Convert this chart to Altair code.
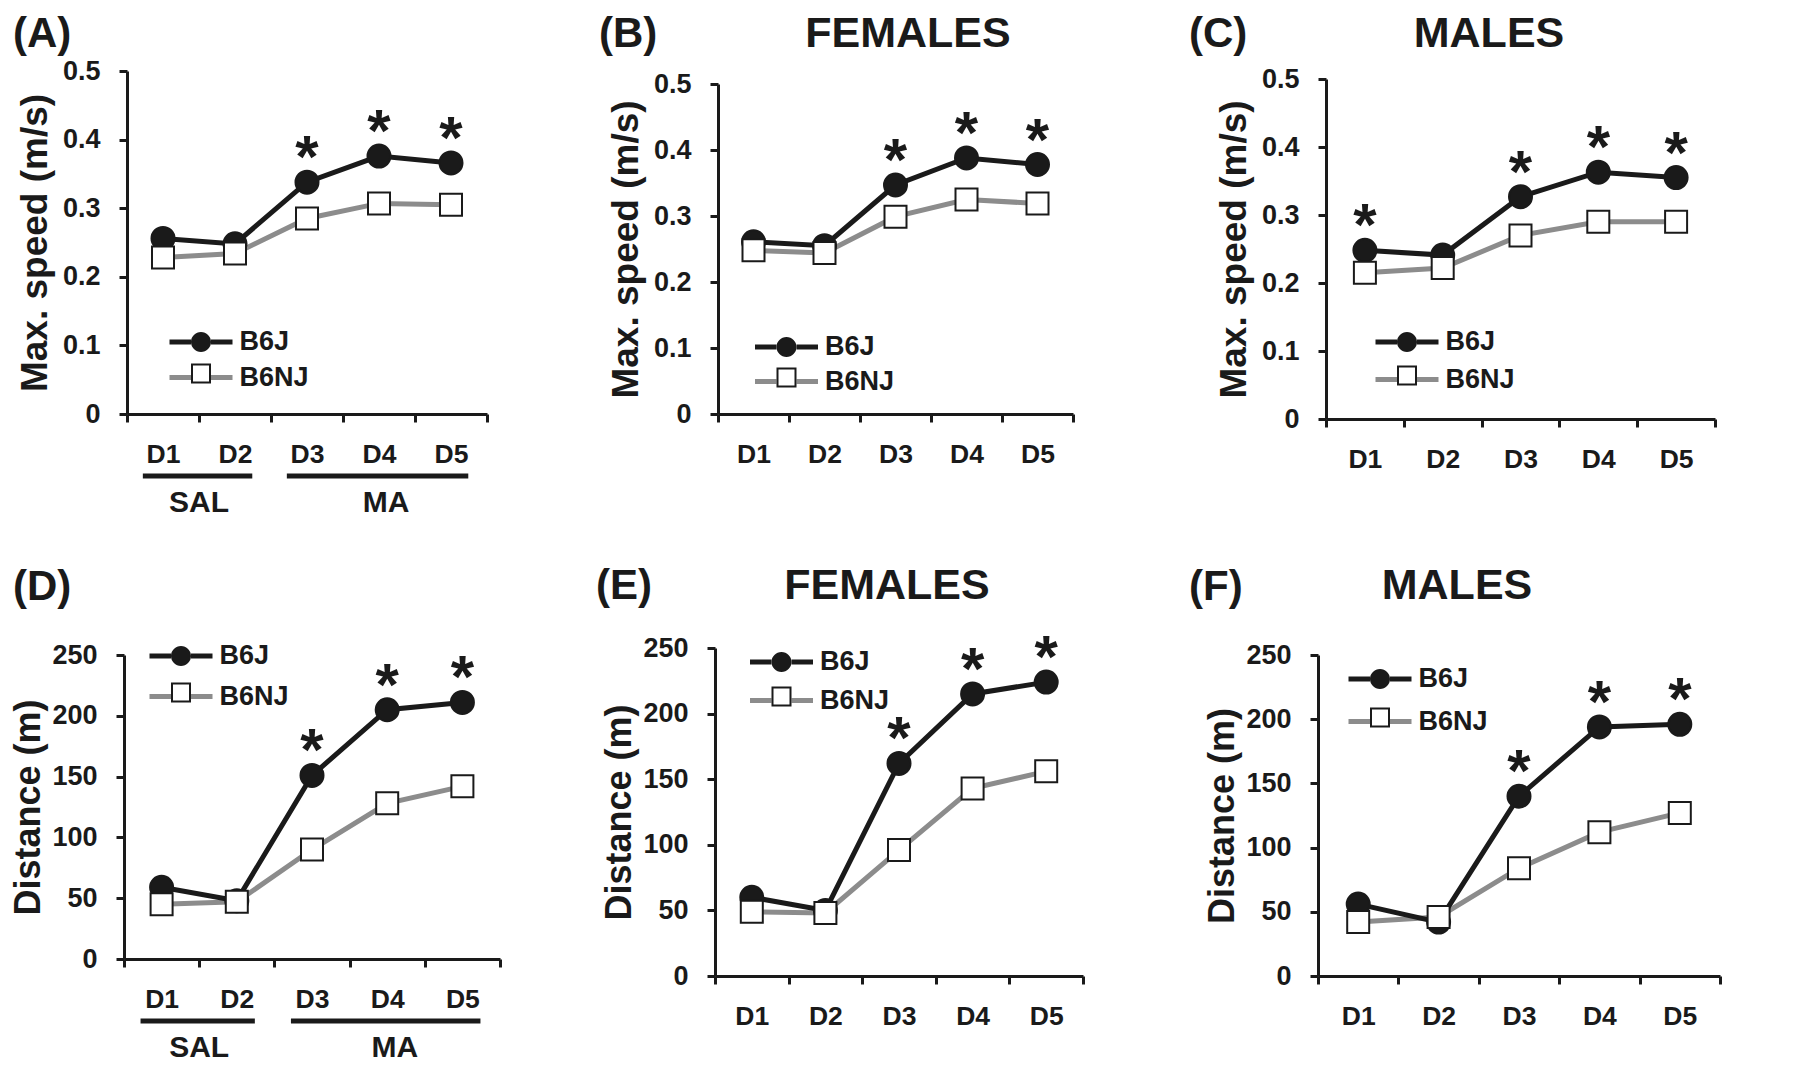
import altair as alt
import pandas as pd

FONT = "Liberation Sans"
INK = "#1a1a1a"
GRAY = "#8c8c8c"

# ---------------- data ----------------
days = ["D1", "D2", "D3", "D4", "D5"]
strains = ["B6J", "B6NJ"]

speed_all_b6j = [0.256, 0.248, 0.338, 0.376, 0.366]
speed_all_b6nj = [0.228, 0.234, 0.285, 0.307, 0.305]
speed_fem_b6j = [0.261, 0.255, 0.347, 0.388, 0.378]
speed_fem_b6nj = [0.248, 0.244, 0.299, 0.325, 0.319]
speed_male_b6j = [0.248, 0.241, 0.327, 0.363, 0.355]
speed_male_b6nj = [0.215, 0.222, 0.270, 0.290, 0.290]

dist_all_b6j = [59, 48, 151, 205, 211]
dist_all_b6nj = [45, 47, 90, 128, 142]
dist_fem_b6j = [60, 50, 162, 215, 224]
dist_fem_b6nj = [49, 48, 96, 143, 156]
dist_male_b6j = [56, 42, 140, 194, 196]
dist_male_b6nj = [42, 46, 84, 112, 127]

sig_speed_all = [0, 0, 1, 1, 1]
sig_speed_fem = [0, 0, 1, 1, 1]
sig_speed_male = [1, 0, 1, 1, 1]
sig_dist_all = [0, 0, 1, 1, 1]
sig_dist_fem = [0, 0, 1, 1, 1]
sig_dist_male = [0, 0, 1, 1, 1]

panel_letters = ["(A)", "(B)", "(C)", "(D)", "(E)", "(F)"]
panel_titles = ["", "FEMALES", "MALES", "", "FEMALES", "MALES"]
speed_ticks = [0, 0.1, 0.2, 0.3, 0.4, 0.5]
dist_ticks = [0, 50, 100, 150, 200, 250]
speed_title = "Max. speed (m/s)"
dist_title = "Distance (m)"

group_labels = ["SAL", "MA"]
group_start = ["D1", "D3"]
group_end = ["D2", "D5"]
group_anchor = ["D1", "D4"]

# ---------------- layout (page pixel geometry) ----------------
COL_X = [121, 712, 1315]
ROW_Y = [69, 646]
COL_W = [376, 388, 402]
AXES_BOX = {  # left, right, top, bottom of axes
    "A": (124, 484, 69, 412), "B": (715, 1070, 82, 412), "C": (1323, 1712, 77, 417),
    "D": (121, 497, 653, 957), "E": (712, 1080, 646, 974), "F": (1315, 1717, 653, 974),
}
LEGEND_POS = {  # line centre x, first row y, second row y
    "A": (198.5, 340, 376), "B": (784, 345, 380), "C": (1404.5, 340, 378),
    "D": (178.5, 654, 695), "E": (779, 660, 699), "F": (1377.5, 677, 720),
}
LETTER_POS = {"A": (10, 45), "B": (596, 45), "C": (1186, 45),
              "D": (10, 598), "E": (593, 597), "F": (1186, 598)}
TITLE_POS = {"B": (905, 45), "C": (1486, 45), "E": (884, 597), "F": (1454, 597)}
YTITLE_SIZE = {"A": 37, "B": 37, "C": 37, "D": 36, "E": 36, "F": 36}
YTITLE_PAD = {"A": 8, "B": 8, "C": 8, "D": 4, "E": 4, "F": 4}

LINE_PATH = "M-3.15,0H-1M1,0H3.15M0,-1L0,-1M0,1L0,1"
CIRCLE_PATH = "M-3.15,0L-3.15,0M3.15,0L3.15,0M-1,0A1,1,0,1,1,1,0A1,1,0,1,1,-1,0Z"
RING_PATH = "M-3.15,0L-3.15,0M3.15,0L3.15,0M-1,-1H1V1H-1ZM-0.8,-0.8V0.8H0.8V-0.8Z"


def make_panel(key, col, row, b6j, b6nj, sig, ticks, ytitle, fmt, letter, title, groups):
    X, Y = COL_X[col], ROW_Y[row]
    L, R, T, B = AXES_BOX[key]
    W, H = COL_W[col], B - Y

    pts = pd.DataFrame({
        "day": days + days,
        "value": list(b6j) + list(b6nj),
        "strain": ["B6J"] * 5 + ["B6NJ"] * 5,
        "sig": list(sig) + [0] * 5,
    })
    lines = pd.concat([pts[pts.strain == "B6NJ"], pts[pts.strain == "B6J"]])
    pts_j = pts[pts.strain == "B6J"]
    pts_nj = pts[pts.strain == "B6NJ"]
    stars = pts[(pts.strain == "B6J") & (pts.sig == 1)]
    legend_only = pd.DataFrame({"lg": pd.Series([], dtype=str)})

    xs = alt.Scale(type="band", domain=days, range=[L - X, R - X], paddingInner=0, paddingOuter=0)
    ys = alt.Scale(domain=[ticks[0], ticks[-1]], range=[H, T - Y], nice=False, zero=True)
    xaxis = alt.Axis(title=None, labelAngle=0, tickBand="extent", labelPadding=19,
                     labelOverlap=False, labelFontSize=26.5)
    yaxis = alt.Axis(title=ytitle, values=ticks, format=fmt, offset=-(L - X), labelPadding=19,
                     titlePadding=YTITLE_PAD[key], labelFlush=False, labelOverlap=False,
                     titleFontSize=YTITLE_SIZE[key], labelFontSize=27)

    cx, y1, y2 = LEGEND_POS[key]
    common = dict(orient="none", legendX=cx - X - 14, legendY=y1 - Y - 13.5, title=None,
                  symbolSize=400, labelFont=FONT, labelFontSize=27, labelFontWeight="bold",
                  labelColor=INK, labelOffset=25, padding=0)
    leg_line = alt.Legend(symbolType=LINE_PATH, symbolStrokeWidth=5,
                          rowPadding=(y2 - y1) - 41.5, **common)
    leg_shape = alt.Legend(symbolStrokeWidth=0, symbolOpacity=1, labelExpr="''",
                           rowPadding=(y2 - y1) - 32.5, **common)

    x_enc = alt.X("day:N", scale=xs, axis=xaxis)
    y_enc = alt.Y("value:Q", scale=ys, axis=yaxis)

    line_layer = alt.Chart(lines).mark_line(strokeWidth=5).encode(
        x=x_enc, y=y_enc,
        stroke=alt.Stroke("strain:N", scale=alt.Scale(domain=strains, range=[INK, GRAY]),
                          legend=leg_line),
    )
    circles = alt.Chart(pts_j).mark_point(shape="circle", filled=True, fill=INK, stroke=INK,
                                          strokeWidth=2, size=529, opacity=1).encode(
        x=x_enc, y=y_enc)
    squares = alt.Chart(pts_nj).mark_point(shape="square", filled=True, fill="white", stroke=INK,
                                           strokeWidth=2, size=484, opacity=1).encode(
        x=x_enc, y=y_enc)
    legend_layer = alt.Chart(legend_only).mark_point(filled=True, color=INK, opacity=1).encode(
        shape=alt.Shape("lg:N", scale=alt.Scale(domain=["lg-B6J", "lg-B6NJ"],
                                                range=[CIRCLE_PATH, RING_PATH]),
                        legend=leg_shape))
    star_layer = alt.Chart(stars).mark_text(text="*", font=FONT, fontSize=60, fontWeight="bold",
                                             color=INK, baseline="alphabetic", dy=-5).encode(
        x=x_enc, y=y_enc)

    lx, ly = LETTER_POS[key]
    letter_layer = alt.Chart(pd.DataFrame({"t": [letter]})).mark_text(
        font=FONT, fontSize=42, fontWeight="bold", color=INK, align="left",
        baseline="alphabetic").encode(x=alt.value(lx - X), y=alt.value(ly - Y), text="t:N")

    layers = [line_layer, circles, squares, legend_layer, star_layer, letter_layer]

    if title:
        tx, ty = TITLE_POS[key]
        layers.append(alt.Chart(pd.DataFrame({"t": [title]})).mark_text(
            font=FONT, fontSize=43, fontWeight="bold", color=INK, align="center",
            baseline="alphabetic").encode(x=alt.value(tx - X), y=alt.value(ty - Y), text="t:N"))

    if groups:
        gdf = pd.DataFrame({"label": group_labels, "start": group_start,
                            "end": group_end, "anchor": group_anchor})
        layers.append(alt.Chart(gdf).mark_rule(strokeWidth=5, color=INK).encode(
            x=alt.X("start:N", scale=xs, axis=xaxis, bandPosition=0.22),
            x2=alt.X2("end:N", bandPosition=0.74),
            y=alt.value(H + 62)))
        for lab, bp in (("SAL", 1.0), ("MA", 0.6)):
            layers.append(alt.Chart(gdf).transform_filter(alt.datum.label == lab).mark_text(
                font=FONT, fontSize=30, fontWeight="bold", color=INK, align="center",
                baseline="alphabetic").encode(
                x=alt.X("anchor:N", scale=xs, axis=xaxis, bandPosition=bp),
                y=alt.value(H + 98), text="label:N"))

    return alt.layer(*layers).properties(width=W, height=H)


pA = make_panel("A", 0, 0, speed_all_b6j, speed_all_b6nj, sig_speed_all, speed_ticks,
                speed_title, ".1~f", panel_letters[0], panel_titles[0], True)
pB = make_panel("B", 1, 0, speed_fem_b6j, speed_fem_b6nj, sig_speed_fem, speed_ticks,
                speed_title, ".1~f", panel_letters[1], panel_titles[1], False)
pC = make_panel("C", 2, 0, speed_male_b6j, speed_male_b6nj, sig_speed_male, speed_ticks,
                speed_title, ".1~f", panel_letters[2], panel_titles[2], False)
pD = make_panel("D", 0, 1, dist_all_b6j, dist_all_b6nj, sig_dist_all, dist_ticks,
                dist_title, "d", panel_letters[3], panel_titles[3], True)
pE = make_panel("E", 1, 1, dist_fem_b6j, dist_fem_b6nj, sig_dist_fem, dist_ticks,
                dist_title, "d", panel_letters[4], panel_titles[4], False)
pF = make_panel("F", 2, 1, dist_male_b6j, dist_male_b6nj, sig_dist_male, dist_ticks,
                dist_title, "d", panel_letters[5], panel_titles[5], False)

chart = alt.concat(
    pA, pB, pC, pD, pE, pF, columns=3,
    spacing={"row": 229, "column": 215}, bounds="flush", align="each",
).resolve_scale(
    x="independent", y="independent", stroke="independent", shape="independent",
).resolve_legend(
    stroke="independent", shape="independent",
).properties(
    padding={"left": 2, "top": 5, "right": 0, "bottom": 0},
).configure_view(stroke=None).configure_axis(
    domainColor=INK, domainWidth=3, tickColor=INK, tickWidth=3, tickSize=8,
    labelFont=FONT, labelFontSize=26, labelFontWeight="bold", labelColor=INK,
    titleFont=FONT, titleFontSize=36, titleFontWeight="bold", titleColor=INK, grid=False,
)

chart.save("out.html", embed_options={"renderer": "svg", "actions": False})
